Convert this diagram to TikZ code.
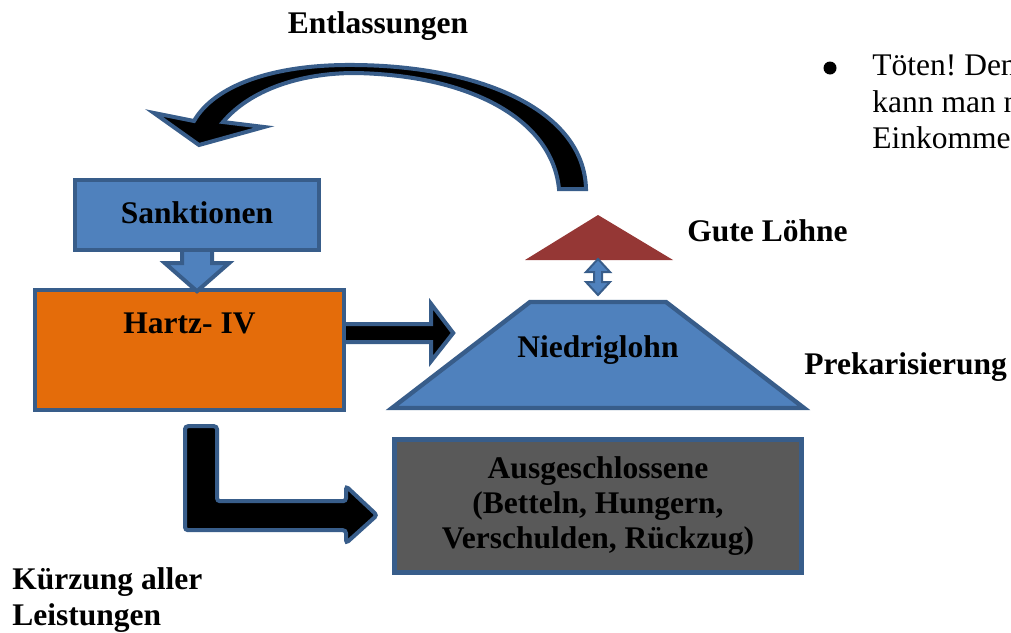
\documentclass[tikz,border=0pt]{standalone}
\usepackage{fontspec}
\setmainfont{Liberation Serif}
\usetikzlibrary{calc}
\definecolor{boxblue}{HTML}{4F81BD}
\definecolor{edgeblue}{HTML}{385D8A}
\definecolor{hartzorange}{HTML}{E46C0A}
\definecolor{lohnred}{HTML}{953735}
\definecolor{exgray}{HTML}{595959}
\frenchspacing

\begin{document}
\begin{tikzpicture}[x=0.5pt,y=-0.5pt,
  font=\fontsize{15.75}{18}\selectfont\bfseries,
  box/.style={draw=edgeblue,line width=2.2pt,inner sep=0pt},
  blkarrow/.style={fill=black,draw=edgeblue,line width=2pt},
  lbl/.style={anchor=base,inner sep=0pt}]
\useasboundingbox (0,0) rectangle (1011,632);

% Kaesten links
\node[box,fill=boxblue,minimum width=122pt,minimum height=35pt] (sank) at (197,215) {};
\node[lbl] (sanklbl) at (197,223) {Sanktionen};
\node[box,fill=hartzorange,minimum width=154.5pt,minimum height=60pt] (hartz) at (189.5,350) {};
\node[lbl] (hartzlbl) at (189.5,333) {Hartz- IV};

% Pyramide
\filldraw[fill=boxblue,draw=edgeblue,line width=2.2pt] (392,408) coordinate (lohnbl) -- (530,302) -- (666,302) -- (804,408) -- cycle;
\coordinate (lohntop) at (598,302);
\node[lbl] (lohn) at (598,357) {Niedriglohn};
\fill[lohnred] (525,260) -- (598,215) coordinate (gutetop) -- (673,260) -- cycle;
\coordinate (gutebase) at (598,260);

\node[box,fill=exgray,minimum width=203.5pt,minimum height=66.5pt,align=center,
  font=\fontsize{15.75}{17.5}\selectfont\bfseries] (ausg) at (598,506)
  {Ausgeschlossene\\(Betteln, Hungern,\\Verschulden, Rückzug)};

% Pfeile
\filldraw[fill=boxblue,draw=edgeblue,line width=2pt] ($(sank.south)+(-15,0)$) -- ++(0,11) -- ++(-17,0) -- ++(32,28) -- ++(32,-28) -- ++(-17,0) -- ++(0,-11);
\filldraw[blkarrow] ($(hartz.east)+(0,-26)$) -- ++(85,0) -- ++(0,-20) -- ++(22,29) -- ++(-22,28) -- ++(0,-19) -- ++(-85,0);
\filldraw[fill=boxblue,draw=edgeblue,line width=1pt] ($(gutebase)+(0,-1)$) -- ++(12,13) -- ++(-8,0) -- ++(0,10) -- ++(8,0) -- ++(-12,13) -- ++(-12,-13) -- ++(8,0) -- ++(0,-10) -- ++(-8,0) -- cycle;
\filldraw[blkarrow,rounded corners=1.5pt] ($(hartz.south)+(-4.5,14)$) -- ++(32,0) -- ++(0,75) -- ++(129,0) -- ++(0,-15) -- ++(31,29) -- ++(-31,28) -- ++(0,-13) -- ++(-161,0) -- cycle;
\filldraw[blkarrow] (586,189) .. controls (584,110) and (480,66) .. (355,65) .. controls (272,64) and (214,86) .. (194,121) -- (154,113) -- (199,145) -- (264,127) -- (223,122) .. controls (250,90) and (300,73) .. (355,73) .. controls (468,75) and (552,118) .. (559,189) -- cycle;

% Beschriftungen
\node[lbl] (entl) at (378,33) {Entlassungen};
\node[lbl,anchor=base west] (gute) at (687,241) {Gute Löhne};
\node[lbl,anchor=base west] (prek) at (804,374) {Prekarisierung};
\node[inner sep=0pt,anchor=north west,align=left] (kuerz) at (12,567.5) {Kürzung aller\\Leistungen};
\fill (830,68) circle (6.5);
\node[inner sep=0pt,anchor=north west,align=left,font=\fontsize{15.75}{18.25}\selectfont] (toeten) at (872,54.5) {Töten! Den\\kann man n\\Einkommen};
\end{tikzpicture}
\end{document}
